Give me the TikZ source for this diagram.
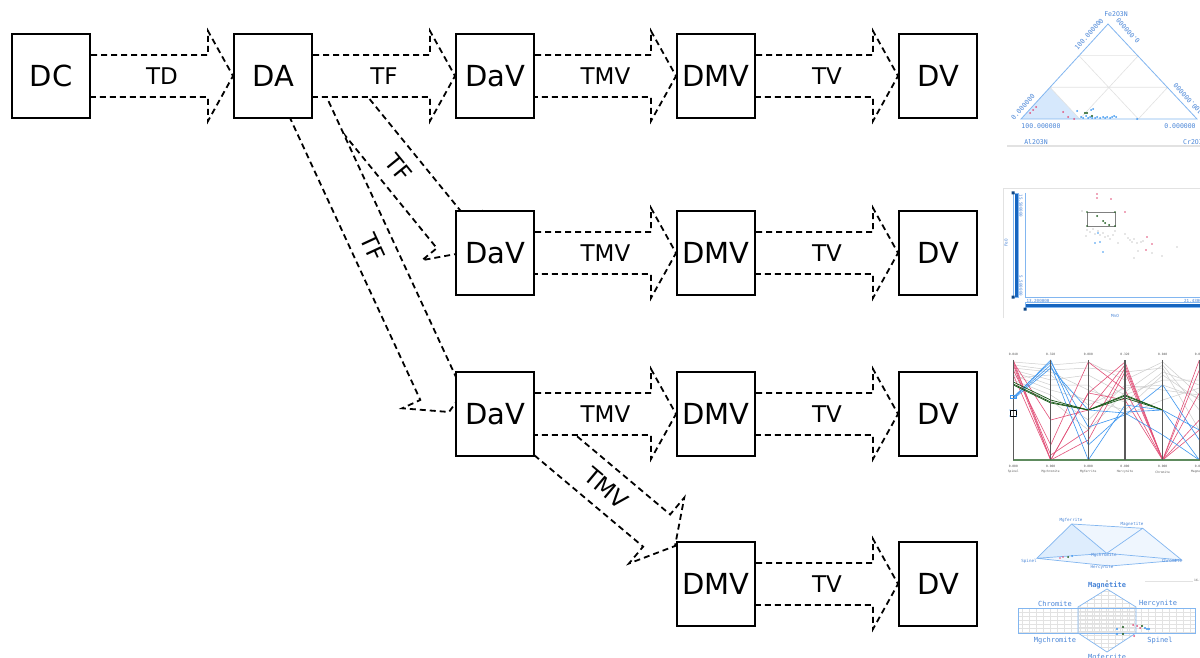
\documentclass[tikz,border=0pt]{standalone}
\usepackage{fontspec}
\setmainfont{DejaVu Sans}
\newfontfamily\monofnt{DejaVu Sans Mono}
\usetikzlibrary{calc}
\pgfdeclarelayer{bg}
\pgfsetlayers{bg,main}
\definecolor{tblue}{RGB}{74,134,216}
\definecolor{lblue}{RGB}{130,182,240}
\definecolor{fblue}{RGB}{214,232,252}
\definecolor{dblue}{RGB}{21,101,192}
\definecolor{ppink}{RGB}{226,80,120}
\definecolor{pblue}{RGB}{60,150,240}
\definecolor{pgreen}{RGB}{25,90,25}
\definecolor{ggray}{RGB}{205,205,205}
\definecolor{gridgray}{RGB}{226,226,226}
\definecolor{axgray}{RGB}{90,90,90}
% block arrow: start, tip, head length, head half width
\newcommand\blockarrow[4]{%
  \path (#2) coordinate (ba-t) ($(#2)!#3!(#1)$) coordinate (ba-h);
  \draw[arr] ($(#1)!21pt!90:(ba-t)$) -- ($(ba-h)!21pt!90:(ba-t)$) -- ($(ba-h)!#4!90:(ba-t)$) -- (ba-t)
    -- ($(ba-h)!#4!-90:(ba-t)$) -- ($(ba-h)!21pt!-90:(ba-t)$) -- ($(#1)!21pt!-90:(ba-t)$) -- cycle;}
\begin{document}
\begin{tikzpicture}[x=1pt,y=-1pt,
  box/.style={draw,line width=2pt,fill=white,minimum width=78pt,minimum height=84pt,inner sep=0pt,font=\fontsize{29}{29}\selectfont},
  lab/.style={inner sep=0pt,font=\fontsize{23}{23}\selectfont},
  arr/.style={draw,fill=white,line width=1.8pt,dash pattern=on 6pt off 4pt},
  thumbtxt/.style={inner sep=0pt,text=tblue,font=\monofnt\fontsize{6.5}{6.5}\selectfont},
  smalltxt/.style={inner sep=0pt,text=tblue,font=\monofnt\fontsize{4.2}{4.2}\selectfont},
  tinytxt/.style={inner sep=0pt,text=axgray,font=\monofnt\fontsize{3}{3}\selectfont}]
\useasboundingbox (0,0) rectangle (1200,658);
% boxes
\node[box] (DC) at (51,76) {DC};
\node[box] (DA) at (273,76) {DA};
\node[box] (DaV1) at (495,76) {DaV};
\node[box] (DMV1) at (716,76) {DMV};
\node[box] (DV1) at (938,76) {DV};
\node[box] (DaV2) at (495,253) {DaV};
\node[box] (DMV2) at (716,253) {DMV};
\node[box] (DV2) at (938,253) {DV};
\node[box] (DaV3) at (495,414) {DaV};
\node[box] (DMV3) at (716,414) {DMV};
\node[box] (DV3) at (938,414) {DV};
\node[box] (DMV4) at (716,584) {DMV};
\node[box] (DV4) at (938,584) {DV};
% helper coordinates for the diagonal arrows
\coordinate (sA) at ($(DA)+(48.7,-2.5)$);
\coordinate (tA) at ($(DaV2)+(-28,-1)$);
\coordinate (sB) at ($(DA)+(19.7,-2.3)$);
\coordinate (tB) at ($(DaV3)+(-46,-2)$);
\coordinate (sC) at ($(DaV3)+(38,12.7)$);
\coordinate (tC) at ($(DMV4)+(-41,-38)$);
\begin{pgfonlayer}{bg}
\fill[white] (0,0) rectangle (1200,658);
\blockarrow{sA}{tA}{22pt}{40pt}
\blockarrow{sB}{tB}{23pt}{41pt}
\blockarrow{sC}{tC}{24pt}{43pt}
\blockarrow{DC}{DA.west}{25pt}{45pt}
\blockarrow{DA}{DaV1.west}{25pt}{45pt}
\blockarrow{DaV1}{DMV1.west}{25pt}{45pt}
\blockarrow{DMV1}{DV1.west}{25pt}{45pt}
\blockarrow{DaV2}{DMV2.west}{25pt}{45pt}
\blockarrow{DMV2}{DV2.west}{25pt}{45pt}
\blockarrow{DaV3}{DMV3.west}{25pt}{45pt}
\blockarrow{DMV3}{DV3.west}{25pt}{45pt}
\blockarrow{DMV4}{DV4.west}{25pt}{45pt}
\end{pgfonlayer}
% labels
\node[lab] (lTD) at ($(DC.east)!0.5!(DA.west)$) {TD};
\node[lab] (lTF1) at ($(DA.east)!0.5!(DaV1.west)$) {TF};
\node[lab] (lTMV1) at ($(DaV1.east)!0.5!(DMV1.west)$) {TMV};
\node[lab] (lTV1) at ($(DMV1.east)!0.5!(DV1.west)$) {TV};
\node[lab] (lTMV2) at ($(DaV2.east)!0.5!(DMV2.west)$) {TMV};
\node[lab] (lTV2) at ($(DMV2.east)!0.5!(DV2.west)$) {TV};
\node[lab] (lTMV3) at ($(DaV3.east)!0.5!(DMV3.west)$) {TMV};
\node[lab] (lTV3) at ($(DMV3.east)!0.5!(DV3.west)$) {TV};
\node[lab] (lTV4) at ($(DMV4.east)!0.5!(DV4.west)$) {TV};
\node[lab,rotate=-50.9] (lTFa) at ($(sA)!0.53!(tA)$) {TF};
\node[lab,rotate=-65.2] (lTFb) at ($(sB)!0.513!(tB)$) {TF};
\node[lab,rotate=-40] (lTMVc) at ($(sC)!0.517!(tC)$) {TMV};
% ===== thumbnails =====
\begin{scope}
\clip (1000,0) rectangle (1200,658);
% --- ternary plot
\fill[fblue] (1021,119) -- (1050,87.3) -- (1079.7,119) -- cycle;
\draw[gridgray,line width=0.6pt] (1050,87.3) -- (1167.7,87.3) (1079,55.7) -- (1138.3,55.7)
  (1079.7,119) -- (1138.3,55.7) (1138.3,119) -- (1167.7,87.3)
  (1079.7,119) -- (1050,87.3) (1138.3,119) -- (1079,55.7);
\draw[lblue,line width=0.8pt] (1021,119) -- (1108,24) -- (1197,119) -- cycle;
\node[thumbtxt] at (1116,14) {Fe2O3N};
\node[thumbtxt,rotate=47.5] at (1089,34) {100.000000};
\node[thumbtxt,rotate=132.5] at (1128,31) {0.000000};
\node[thumbtxt,rotate=47.5] at (1023,107) {0.000000};
\node[thumbtxt,rotate=132.5] at (1188,99) {100.000000};
\node[thumbtxt] at (1041,126) {100.000000};
\node[thumbtxt] at (1180,126) {0.000000};
\node[thumbtxt] at (1036,142) {Al2O3N};
\node[thumbtxt,anchor=west] at (1183,142) {Cr2O3N};
\draw[gridgray,line width=1.5pt] (1007,146) -- (1200,146);
\foreach \p in {(1030,113),(1033,110),(1036,107),(1063,112),(1068,117),(1074,119)} \fill[ppink] \p circle (1pt);
\foreach \p in {(1077,111),(1081,117),(1083,118),(1086,116),(1088,118),(1090,117),(1092,118),(1095,118),(1097,117),(1100,118),(1103,117),(1105,118),(1107,117),(1110,118),(1112,117),(1114,116),(1116,117),(1091,110),(1093,109),(1137,119)} \fill[pblue] \p circle (1pt);
\foreach \p in {(1085,113),(1087,113),(1092,116)} \fill[pgreen] \p circle (1.1pt);
% --- scatter plot
\draw[gridgray,line width=0.8pt] (1003,318) -- (1003,188) -- (1200,188);
\draw[lblue,line width=0.8pt] (1025,193) -- (1025,297) -- (1200,297);
\fill[dblue] (1014.5,193) rectangle (1017.5,297);
\draw[lblue,line width=0.5pt] (1013.5,193) rectangle (1018.5,297);
\fill[dblue] (1025,303.5) rectangle (1201,306.5);
\draw[lblue,line width=0.5pt] (1025,302.5) rectangle (1202,307.5);
\fill[dblue!70!black] (1011.5,191.5) rectangle (1014.5,194.5) (1011.5,295.5) rectangle (1014.5,298.5) (1023.5,307.5) rectangle (1026.5,310.5);
\node[smalltxt,rotate=90] at (1006,243) {FeO};
\node[smalltxt,rotate=-90] at (1021,206) {15.500000};
\node[smalltxt,rotate=-90] at (1021,286) {5.500000};
\node[smalltxt] at (1038,301) {13.200000};
\node[smalltxt,anchor=west] at (1184,301) {21.430000};
\node[smalltxt] at (1115,316) {MnO};
\foreach \p in {(1082,211),(1087,230),(1090,232),(1093,229),(1095,234),(1098,231),(1100,235),(1103,233),(1105,237),(1108,236),(1110,239),(1113,235),(1118,243),(1125,234),(1128,238),(1130,240),(1132,242),(1134,239),(1137,243),(1141,242),(1143,241),(1138,251),(1152,253),(1162,256),(1177,247),(1134,258),(1086,236),(1115,231)} \fill[ggray] \p circle (0.9pt);
\foreach \p in {(1097,194),(1097,198),(1111,199),(1125,212),(1147,237),(1152,244),(1146,250)} \fill[ppink] \p circle (0.9pt);
\foreach \p in {(1095,243),(1100,242),(1103,252),(1098,233)} \fill[pblue] \p circle (0.9pt);
\draw[gray,line width=0.8pt] (1087,212) rectangle (1115,226);
\foreach \p in {(1087,212),(1115,212),(1087,226),(1115,226)} \fill[pgreen] \p circle (0.9pt);
\foreach \p in {(1097,216),(1103,221),(1105,223),(1109,225)} \fill[pgreen] \p circle (1pt);
% --- parallel coordinates
\foreach \a/\b/\c/\d/\e/\f in {362/365/362/380/362/395,370/380/375/395/380/380,375/390/400/410/375/400,380/395/420/385/390/395,368/372/390/402/372/385,385/400/430/392/365/410,372/385/385/415/400/388,378/375/405/388/385/398,365/370/368/372/368/430}
  \draw[ggray,line width=0.5pt] (1013.3,\a) -- (1050.7,\b) -- (1088.3,\c) -- (1125,\d) -- (1162.7,\e) -- (1199.3,\f);
\foreach \a/\b/\c/\d/\e/\f in {360/460/393/362/460/360,362/420/410/365/460/393,365/460/440/372/460/420,370/445/362/390/460/460,375/460/393/400/460/430,363/455/430/368/460/370}
  \draw[ppink,line width=0.6pt] (1013.3,\a) -- (1050.7,\b) -- (1088.3,\c) -- (1125,\d) -- (1162.7,\e) -- (1199.3,\f);
\foreach \a/\b/\c/\d/\e/\f in {398/360/445/412/410/460,397/362/427/415/385/440,398/365/460/405/410/430,399/368/410/413/435/460}
  \draw[pblue,line width=0.6pt] (1013.3,\a) -- (1050.7,\b) -- (1088.3,\c) -- (1125,\d) -- (1162.7,\e) -- (1199.3,\f);
\foreach \a/\b/\c/\d/\e in {382/400/410/395/410,385/403/410/398/410,384/402/410/396/410}
  \draw[pgreen,line width=0.7pt] (1013.3,\a) -- (1050.7,\b) -- (1088.3,\c) -- (1125,\d) -- (1162.7,\e);
\draw[pgreen!70,line width=1.2pt] (1013,460) -- (1200,460);
\foreach \x/\t/\n in {1013.3/0.040/Spinel,1050.7/0.320/Mgchromite,1088.3/0.080/Mgferrite,1125/0.320/Hercynite,1162.7/0.040/Chromite,1199.3/0.080/Magnetite}{
  \draw[axgray,line width=1.3pt] (\x,360) -- (\x,460);
  \node[tinytxt] at (\x,354) {\t};
  \node[tinytxt] at (\x,466) {0.000};
  \node[tinytxt] at (\x,472) {\n};}
\draw[pblue,line width=0.5pt] (1010,395) rectangle (1016.5,398.5);
\draw[black,line width=0.5pt] (1010,410) rectangle (1016.5,416);
\foreach \p in {(1010,410),(1016.5,410),(1010,416),(1016.5,416)} \fill[pblue] \p circle (0.7pt);
% --- projections
\fill[fblue!40] (1071.7,524) -- (1142.7,528.3) -- (1181.7,560) -- (1110,566) -- (1036.7,558.3) -- cycle;
\fill[fblue!80] (1036.7,558.3) -- (1071.7,524) -- (1106.7,553.3) -- cycle;
\draw[lblue,line width=0.7pt] (1036.7,558.3) -- (1071.7,524) -- (1142.7,528.3) -- (1181.7,560) -- (1110,566) -- cycle
  (1071.7,524) -- (1106.7,553.3) -- (1142.7,528.3) (1036.7,558.3) -- (1106.7,553.3) -- (1181.7,560);
\node[smalltxt] at (1071,520) {Mgferrite};
\node[smalltxt] at (1132,524) {Magnetite};
\node[smalltxt] at (1029,561) {Spinel};
\node[smalltxt] at (1104,555) {Mgchromite};
\node[smalltxt] at (1172,561) {Chromite};
\node[smalltxt] at (1102,567) {Hercynite};
\foreach \p in {(1060,558),(1063,557)} \fill[ppink] \p circle (0.9pt);
\fill[pgreen] (1068,557) circle (1pt);
\fill[pblue] (1072,556) circle (1pt);
\draw[gridgray,line width=1pt] (1145,581) -- (1193,581);
\node[tinytxt,anchor=west] at (1194,580) {16.1};
\fill[black] (1107,581) circle (0.6pt);
\begin{scope}
\clip (1018,608) rectangle (1195,633);
\foreach \yy in {612,616,...,632} \draw[gridgray,line width=0.3pt] (1018,\yy) -- (1195,\yy);
\foreach \xx in {1022,1029,...,1195} \draw[gridgray,line width=0.3pt] (\xx,608) -- (\xx,633);
\end{scope}
\begin{scope}
\clip (1107,589) -- (1136,607) -- (1136,633) -- (1107,652) -- (1078,633) -- (1078,607) -- cycle;
\foreach \yy in {591,595,...,652} \draw[gridgray,line width=0.3pt] (1078,\yy) -- (1136,\yy);
\foreach \xx in {1080,1087,...,1136} \draw[gridgray,line width=0.3pt] (\xx,589) -- (\xx,652);
\end{scope}
\draw[lblue,line width=0.7pt] (1018,608) rectangle (1195,633);
\draw[lblue,line width=0.7pt] (1078,608) -- (1078,607) -- (1107,589) -- (1136,607) -- (1136,608) (1078,633) -- (1107,652) -- (1136,633) (1078,608) -- (1078,633) (1136,608) -- (1136,633);
\node[thumbtxt,font=\monofnt\bfseries\fontsize{7}{7}\selectfont] at (1107,585) {Magnetite};
\node[thumbtxt,font=\monofnt\fontsize{7}{7}\selectfont] at (1055,604) {Chromite};
\node[thumbtxt,font=\monofnt\fontsize{7}{7}\selectfont] at (1158,604) {Hercynite};
\node[thumbtxt,font=\monofnt\fontsize{7}{7}\selectfont] at (1055,641) {Mgchromite};
\node[thumbtxt,font=\monofnt\fontsize{7}{7}\selectfont] at (1160,641) {Spinel};
\node[thumbtxt,font=\monofnt\fontsize{7}{7}\selectfont] at (1107,658) {Mgferrite};
\foreach \p in {(1117,629),(1117,634),(1145,628),(1147,629),(1149,629)} \fill[pblue] \p circle (1.1pt);
\foreach \p in {(1123,627),(1123,634),(1142,626)} \fill[pgreen] \p circle (1.1pt);
\foreach \p in {(1133,625),(1137,626),(1134,636),(1140,628)} \fill[ppink] \p circle (1pt);
\end{scope}
\end{tikzpicture}
\end{document}
